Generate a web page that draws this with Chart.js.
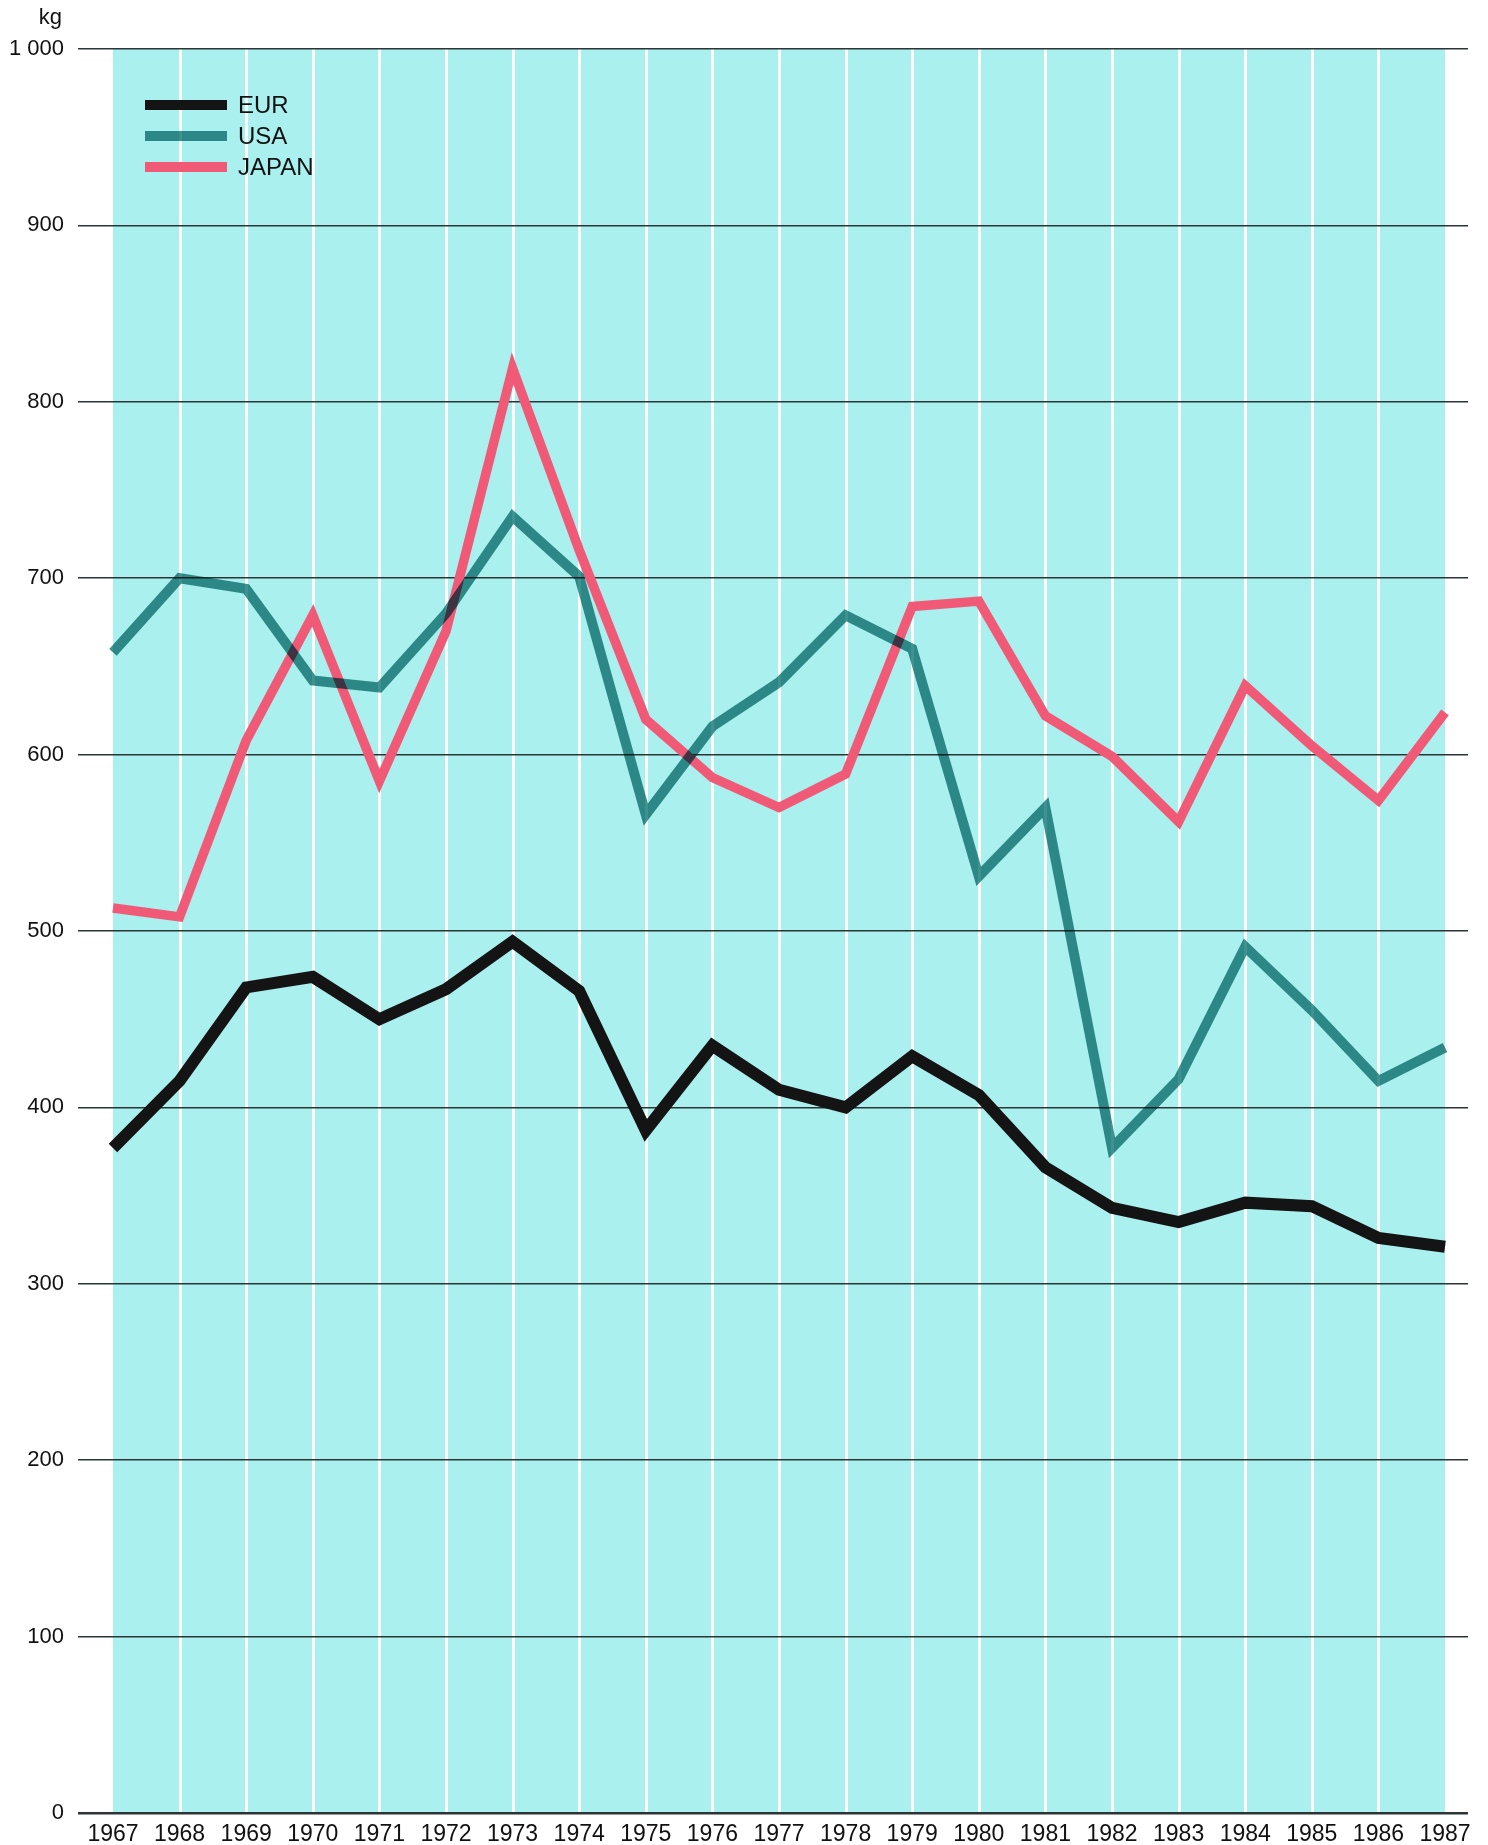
<!DOCTYPE html>
<html>
<head>
<meta charset="utf-8">
<script src="https://cdn.jsdelivr.net/npm/chart.js@4.4.1/dist/chart.umd.min.js"></script>
<style>
  html, body { margin: 0; padding: 0; background: #fff; }
  #wrap { width: 1488px; height: 1845px; }
</style>
</head>
<body>
<div id="wrap"><canvas id="chart" width="1488" height="1845"></canvas></div>
<script>
const years = [1967, 1968, 1969, 1970, 1971, 1972, 1973, 1974, 1975, 1976, 1977,
               1978, 1979, 1980, 1981, 1982, 1983, 1984, 1985, 1986, 1987];
const eur   = [377, 415, 468, 474, 450, 467, 494, 466, 387, 435, 410,
               400, 429, 407, 366, 343, 335, 346, 344, 326, 321];
const usa   = [658, 700, 694, 642, 638, 680, 735, 701, 566, 616, 641,
               679, 660, 531, 570, 377, 416, 491, 455, 415, 434];
const japan = [513, 508, 608, 679, 585, 670, 819, 716, 620, 587, 570,
               589, 684, 687, 622, 599, 562, 639, 605, 574, 624];
const yTicks = [0, 100, 200, 300, 400, 500, 600, 700, 800, 900, 1000];

const FONT = "'Liberation Sans', Arial, sans-serif";
const PAPER = '#aaf0ef';

const toPoints = vals => years.map((y, i) => ({ x: y, y: vals[i] }));

// cyan panel and white year rules behind the grid
const backdrop = {
    id: 'backdrop',
    beforeDraw(chart) {
        const { ctx, chartArea, scales } = chart;
        const x = scales.x;
        const left = x.getPixelForValue(years[0]);
        const right = x.getPixelForValue(years[years.length - 1]);
        ctx.save();
        ctx.fillStyle = '#ffffff';
        ctx.fillRect(0, 0, chart.width, chart.height);
        ctx.fillStyle = PAPER;
        ctx.fillRect(left, chartArea.top, right - left, chartArea.bottom - chartArea.top);
        ctx.strokeStyle = 'rgba(255,255,255,0.95)';
        ctx.lineWidth = 3;
        years.slice(1, -1).forEach(yr => {
            const px = Math.round(x.getPixelForValue(yr)) + 0.5;
            ctx.beginPath();
            ctx.moveTo(px, chartArea.top);
            ctx.lineTo(px, chartArea.bottom);
            ctx.stroke();
        });
        ctx.restore();
    }
};

// overprint look for the teal line
const blend = {
    id: 'blend',
    beforeDatasetDraw(chart, args) {
        chart.ctx.save();
        chart.ctx.globalCompositeOperation = chart.data.datasets[args.index].blend || 'source-over';
    },
    afterDatasetDraw(chart) {
        chart.ctx.restore();
    }
};

// legend inside the plot plus the unit label
const annotate = {
    id: 'annotate',
    afterDraw(chart) {
        const { ctx } = chart;
        ctx.save();
        chart.data.datasets.forEach((ds, i) => {
            const cy = 105 + i * 31;
            ctx.globalCompositeOperation = ds.blend || 'source-over';
            ctx.strokeStyle = ds.borderColor;
            ctx.lineWidth = 10;
            ctx.lineCap = 'butt';
            ctx.beginPath();
            ctx.moveTo(145, cy);
            ctx.lineTo(227, cy);
            ctx.stroke();
            ctx.globalCompositeOperation = 'source-over';
            ctx.fillStyle = '#111';
            ctx.font = '24px ' + FONT;
            ctx.textAlign = 'left';
            ctx.textBaseline = 'middle';
            ctx.fillText(ds.label, 238, cy + 1);
        });
        ctx.fillStyle = '#111';
        ctx.font = '22px ' + FONT;
        ctx.textAlign = 'right';
        ctx.textBaseline = 'alphabetic';
        ctx.fillText('kg', 62, 24);
        ctx.restore();
    }
};

new Chart(document.getElementById('chart').getContext('2d'), {
    type: 'line',
    data: {
        datasets: [
            { label: 'EUR', data: toPoints(eur), borderColor: '#141414', borderWidth: 12 },
            { label: 'USA', data: toPoints(usa), borderColor: '#42918f', borderWidth: 10, blend: 'multiply' },
            { label: 'JAPAN', data: toPoints(japan), borderColor: '#f05a76', borderWidth: 9.5 }
        ]
    },
    options: {
        responsive: false,
        animation: false,
        layout: { padding: { top: 49, right: 20, bottom: 0, left: 0 } },
        elements: {
            point: { radius: 0, hoverRadius: 0 },
            line: { tension: 0, borderJoinStyle: 'miter', borderCapStyle: 'butt', fill: false }
        },
        scales: {
            x: {
                type: 'linear',
                min: 1966.475,
                max: 1987.345,
                afterBuildTicks: scale => { scale.ticks = years.map(v => ({ value: v })); },
                afterFit: scale => { scale.height = 32; },
                grid: { display: false },
                border: { display: false },
                ticks: {
                    autoSkip: false,
                    maxRotation: 0,
                    padding: 0,
                    color: '#111',
                    font: { family: FONT, size: 23 },
                    callback: v => String(v)
                }
            },
            y: {
                min: 0,
                max: 1000,
                afterBuildTicks: scale => { scale.ticks = yTicks.map(v => ({ value: v })); },
                afterFit: scale => { scale.width = 78; },
                grid: {
                    color: '#2b3535',
                    lineWidth: ctx => ctx.tick && ctx.tick.value === 0 ? 2.5 : 1.5,
                    drawTicks: false
                },
                border: { display: false },
                ticks: {
                    padding: 14,
                    color: '#111',
                    font: { family: FONT, size: 22 },
                    callback: v => v === 1000 ? '1 000' : String(v)
                }
            }
        },
        plugins: {
            legend: { display: false },
            tooltip: { enabled: false }
        }
    },
    plugins: [backdrop, blend, annotate]
});
</script>
</body>
</html>
